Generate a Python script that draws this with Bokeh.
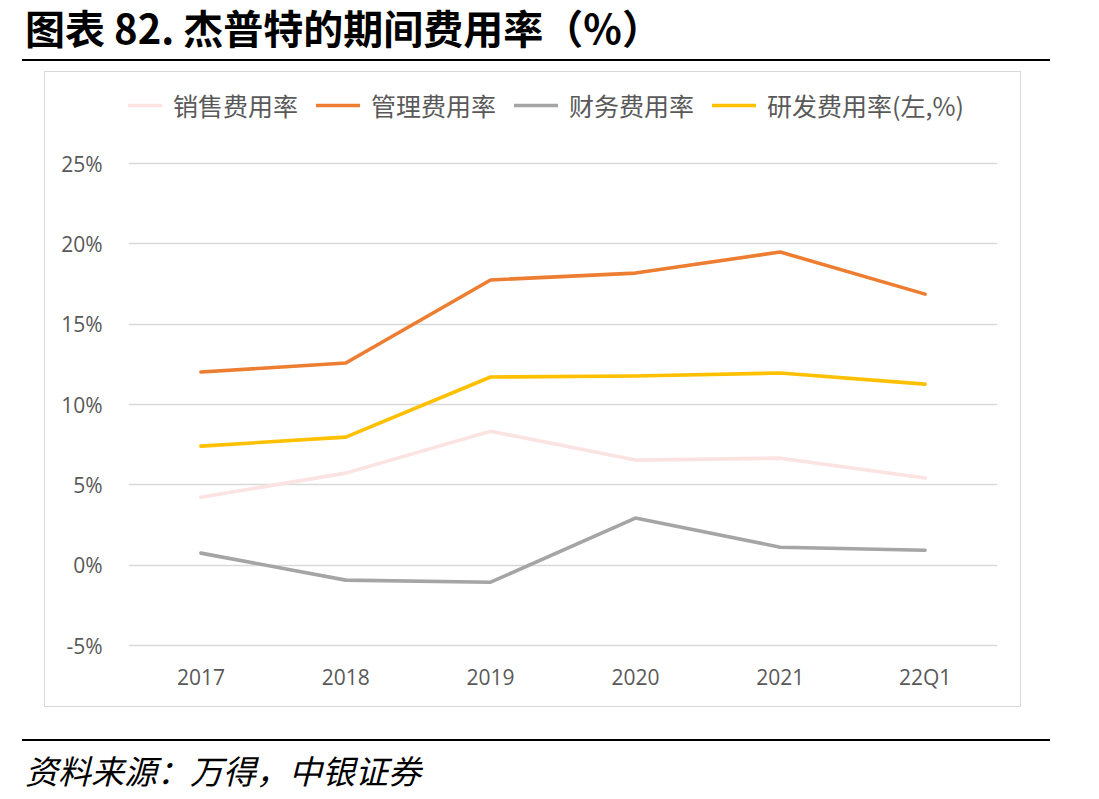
from bokeh.plotting import figure
from bokeh.models import FixedTicker, Legend, LegendItem, Div
from bokeh.layouts import column
from bokeh.embed import file_html
from bokeh.resources import INLINE

categories = ["2017", "2018", "2019", "2020", "2021", "22Q1"]
sales = [4.23, 5.73, 8.34, 6.54, 6.66, 5.42]
admin = [12.02, 12.58, 17.75, 18.18, 19.49, 16.87]
fin = [0.75, -0.93, -1.06, 2.93, 1.12, 0.93]
rnd = [7.41, 7.97, 11.71, 11.77, 11.96, 11.27]
series_names = ["销售费用率", "管理费用率", "财务费用率", "研发费用率(左,%)"]
series_colors = ["#FAE3E1", "#ED7D31", "#A5A5A5", "#FFC000"]
y_ticks = [-5, 0, 5, 10, 15, 20, 25]
y_tick_labels = ["-5%", "0%", "5%", "10%", "15%", "20%", "25%"]
title_text = "图表 82. 杰普特的期间费用率（%）"
source_text = "资料来源：万得，中银证券"

CJK = "Noto Sans CJK SC"

title_div = Div(
    width=1099, height=72, margin=0,
    text=(
        '<div style="position:relative;width:1099px;height:72px;">'
        f'<div style="position:absolute;left:25px;top:7px;font-family:\'{CJK}\';font-weight:bold;'
        f'font-size:40px;line-height:40px;color:#000;white-space:nowrap;">{title_text}</div>'
        '<div style="position:absolute;left:22px;top:59px;width:1028px;height:2px;background:#000;"></div>'
        '</div>'
    ),
)

source_div = Div(
    width=1099, height=93, margin=0,
    text=(
        '<div style="position:relative;width:1099px;height:93px;">'
        '<div style="position:absolute;left:22px;top:33px;width:1028px;height:2px;background:#000;"></div>'
        f'<div style="position:absolute;left:25px;top:48px;font-family:\'{CJK}\';font-style:italic;'
        f'font-size:33px;line-height:33px;color:#000;white-space:nowrap;">{source_text}</div>'
        '</div>'
    ),
)

p = figure(width=975, height=634, x_range=categories, y_range=(-5.124, 30.166),
           min_border_left=83, min_border_right=23, min_border_top=8,
           min_border_bottom=59, output_backend="svg", toolbar_location=None,
           margin=(0, 0, 0, 45),
           styles={"outline": "1.5px solid #D9D9D9", "outline-offset": "0px"})
p.outline_line_color = None
p.background_fill_color = "white"
p.border_fill_color = "white"

p.xgrid.grid_line_color = None
p.ygrid.grid_line_color = "#D9D9D9"
p.ygrid.grid_line_width = 1.5
p.yaxis.ticker = FixedTicker(ticks=y_ticks)
p.yaxis.major_label_overrides = {t: l for t, l in zip(y_ticks, y_tick_labels)}
for ax in (p.xaxis[0], p.yaxis[0]):
    ax.axis_line_color = None
    ax.major_tick_line_color = None
    ax.minor_tick_line_color = None
    ax.major_label_text_font = "Open Sans"
    ax.major_label_text_font_size = "21px"
    ax.major_label_text_color = "#595959"
p.yaxis.major_label_standoff = 20
p.xaxis.major_label_standoff = 9

renderers = []
for data, color in zip([sales, admin, fin, rnd], series_colors):
    r = p.line(x=categories, y=data, line_color=color, line_width=3.6,
               line_cap="round", line_join="round")
    renderers.append(r)

legend = Legend(items=[LegendItem(label=n, renderers=[r]) for n, r in zip(series_names, renderers)],
                orientation="horizontal", location=(-10, 524))
legend.label_text_font = CJK
legend.label_text_font_size = "25px"
legend.label_text_color = "#595959"
legend.glyph_width = 44
legend.glyph_height = 24
legend.label_height = 24
legend.label_standoff = 11
legend.spacing = 18
legend.padding = 0
legend.margin = 0
legend.border_line_color = None
legend.background_fill_alpha = 0
p.add_layout(legend, "center")

layout = column(title_div, p, source_div, spacing=0, margin=0)

open("out.html", "w").write(file_html(layout, INLINE))
